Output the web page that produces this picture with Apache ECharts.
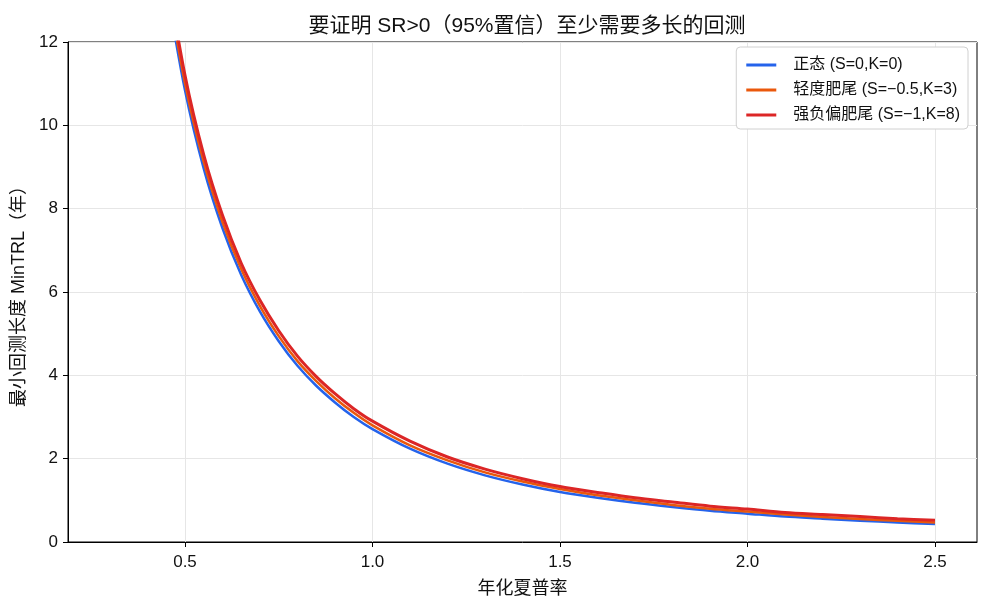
<!DOCTYPE html>
<html>
<head>
<meta charset="utf-8">
<script src="https://cdn.jsdelivr.net/npm/echarts@6/dist/echarts.min.js"></script>
<style>
  html, body { margin: 0; padding: 0; background: #fff; }
  #chart { width: 988px; height: 611px; }
</style>
</head>
<body>
<div id="chart"></div>
<script>
// annualised Sharpe ratio on the x axis
const sharpe = [0.45, 0.5, 0.55, 0.6, 0.65, 0.7, 0.75, 0.8, 0.85, 0.9, 0.95, 1.0,
  1.1, 1.2, 1.3, 1.4, 1.5, 1.6, 1.7, 1.8, 1.9, 2.0, 2.1, 2.2, 2.3, 2.4, 2.5];

// MinTRL in years
const normalYears = [13.38, 10.84, 8.96, 7.53, 6.41, 5.53, 4.82, 4.23, 3.75, 3.35, 3.00, 2.71,
  2.24, 1.88, 1.60, 1.38, 1.20, 1.06, 0.94, 0.84, 0.75, 0.68, 0.61, 0.56, 0.51, 0.47, 0.43];
const mildYears = [13.58, 11.01, 9.12, 7.68, 6.55, 5.66, 4.94, 4.34, 3.86, 3.45, 3.10, 2.80,
  2.32, 1.96, 1.67, 1.45, 1.27, 1.12, 1.00, 0.89, 0.80, 0.73, 0.66, 0.60, 0.55, 0.51, 0.47];
const heavyYears = [13.78, 11.20, 9.29, 7.84, 6.69, 5.80, 5.07, 4.46, 3.97, 3.56, 3.20, 2.90,
  2.42, 2.04, 1.75, 1.52, 1.33, 1.19, 1.06, 0.96, 0.86, 0.79, 0.71, 0.66, 0.61, 0.56, 0.52];

const seriesNames = ["正态 (S=0,K=0)", "轻度肥尾 (S=−0.5,K=3)", "强负偏肥尾 (S=−1,K=8)"];
const xTicks = [0.5, 1.0, 1.5, 2.0, 2.5];

const font = '"Liberation Sans", "Noto Sans CJK SC", sans-serif';

function pairs(ys) {
  return sharpe.map((x, i) => [x, ys[i]]);
}

const chart = echarts.init(document.getElementById("chart"), null, { renderer: "canvas" });

chart.setOption({
  backgroundColor: "#fff",
  animation: false,
  textStyle: { fontFamily: font, color: "#000" },
  title: {
    text: "要证明 SR>0（95%置信）至少需要多长的回测",
    left: 522,
    textAlign: "center",
    top: 11,
    textStyle: { fontSize: 21, fontWeight: "normal", color: "#111", fontFamily: font },
  },
  legend: {
    orient: "vertical",
    right: 20,
    top: 47,
    padding: [10, 8, 6, 10],
    itemGap: 9,
    itemWidth: 30,
    itemHeight: 3,
    icon: "rect",
    backgroundColor: "#fff",
    borderColor: "#d0d0d0",
    borderWidth: 1,
    borderRadius: 4,
    textStyle: { fontSize: 16, color: "#111", fontFamily: font, padding: [0, 0, 0, 12] },
    data: seriesNames,
  },
  grid: {
    left: 68,
    right: 11,
    top: 42,
    bottom: 69,
    show: true,
    borderColor: "#000",
    borderWidth: 1,
    backgroundColor: "transparent",
  },
  xAxis: {
    type: "value",
    min: 0.188,
    max: 2.612,
    name: "年化夏普率",
    nameLocation: "middle",
    nameGap: 38,
    nameTextStyle: { fontSize: 18, color: "#111", fontFamily: font },
    axisLine: { show: true, onZero: false, lineStyle: { color: "#000", width: 1 } },
    axisTick: { show: true, length: 5, customValues: xTicks, lineStyle: { color: "#000" } },
    axisLabel: {
      customValues: xTicks,
      color: "#111",
      fontSize: 17,
      margin: 12,
      formatter: (v) => v.toFixed(1),
    },
    splitLine: { show: true, lineStyle: { color: "#e6e6e6", width: 1 } },
  },
  yAxis: {
    type: "value",
    min: 0,
    max: 12,
    interval: 2,
    name: "最小回测长度 MinTRL（年）",
    nameLocation: "middle",
    nameGap: 36,
    nameTextStyle: { fontSize: 18, color: "#111", fontFamily: font },
    axisLine: { show: true, lineStyle: { color: "#000", width: 1 } },
    axisTick: { show: true, length: 5, lineStyle: { color: "#000" } },
    axisLabel: { color: "#111", fontSize: 17, margin: 10 },
    splitLine: { show: true, lineStyle: { color: "#e6e6e6", width: 1 } },
  },
  series: [
    {
      name: seriesNames[0],
      type: "line",
      data: pairs(normalYears),
      smooth: 0.3,
      showSymbol: false,
      clip: true,
      color: "#2563eb",
      lineStyle: { color: "#2563eb", width: 2.5 },
      z: 2,
    },
    {
      name: seriesNames[1],
      type: "line",
      data: pairs(mildYears),
      smooth: 0.3,
      showSymbol: false,
      clip: true,
      color: "#ea580c",
      lineStyle: { color: "#ea580c", width: 2.5 },
      z: 3,
    },
    {
      name: seriesNames[2],
      type: "line",
      data: pairs(heavyYears),
      smooth: 0.3,
      showSymbol: false,
      clip: true,
      color: "#dc2626",
      lineStyle: { color: "#dc2626", width: 3 },
      z: 4,
    },
  ],
});
</script>
</body>
</html>
